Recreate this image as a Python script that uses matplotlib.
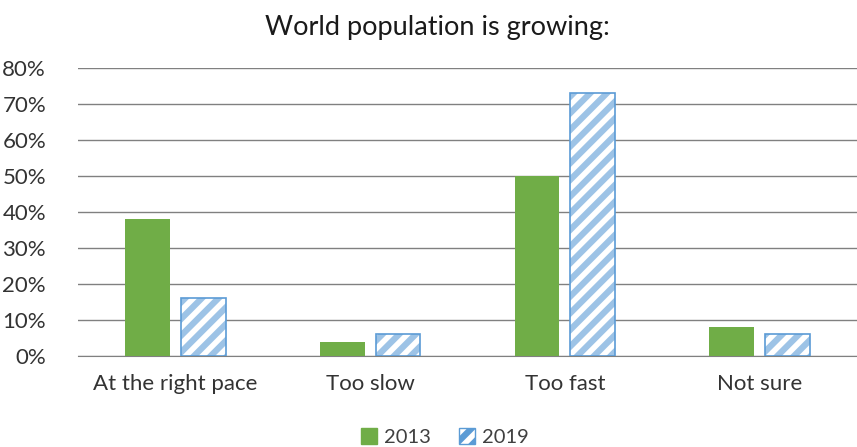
import matplotlib
matplotlib.use("Agg")
import matplotlib.pyplot as plt
import numpy as np
from matplotlib.patches import Patch
from matplotlib.ticker import PercentFormatter

categories = ["At the right pace", "Too slow", "Too fast", "Not sure"]
values_2013 = [38, 4, 50, 8]
values_2019 = [16, 6, 73, 6]
series_labels = ["2013", "2019"]
title = "World population is growing:"

green = "#70AD47"
stripe = "#9DC3E6"
border = "#5B9BD5"

plt.rcParams["font.family"] = ["Lato", "DejaVu Sans"]
plt.rcParams["hatch.linewidth"] = 4.5

fig = plt.figure(figsize=(8.57, 4.47), dpi=100)
ax = fig.add_axes([78 / 857, 1 - 356 / 447, 1 - 78 / 857, (356 - 68) / 447])

x = np.arange(len(categories))
w = 0.23
gap = 0.056
off = (w + gap) / 2

ax.bar(x - off, values_2013, w, color=green, zorder=3)
ax.bar(x + off, values_2019, w, facecolor="white", edgecolor=stripe,
       hatch="//", linewidth=0, zorder=3)
ax.bar(x + off, values_2019, w, fill=False, edgecolor=border,
       linewidth=1.2, zorder=4)

ax.set_xlim(-0.5, len(categories) - 0.5)
ax.set_ylim(0, 80)
ax.set_yticks(np.arange(0, 81, 10))
ax.yaxis.set_major_formatter(PercentFormatter(decimals=0))
ax.set_xticks(x)
ax.set_xticklabels(categories)
ax.tick_params(axis="both", length=0, labelsize=16, colors="#333333")
ax.tick_params(axis="x", pad=13)
ax.tick_params(axis="y", pad=23)

ax.grid(axis="y", color="#808080", linewidth=1.0, zorder=0)
for s in ["top", "right", "left"]:
    ax.spines[s].set_visible(False)
ax.spines["bottom"].set_color("#808080")

fig.text(437 / 857, 1 - 27 / 447, title, ha="center", va="center",
         fontsize=19.5, color="#1a1a1a")

handles = [Patch(facecolor=green, edgecolor=green),
           Patch(facecolor="white", edgecolor=border, hatch="//")]
fig.legend(handles, series_labels, loc="center", bbox_to_anchor=(445 / 857, 1 - 437 / 447),
           ncol=2, frameon=False, fontsize=14.5, handlelength=0.8, handleheight=0.8,
           handletextpad=0.35, columnspacing=1.4, labelcolor="#404040",
           borderpad=0)

fig.savefig("out.png", dpi=100)
